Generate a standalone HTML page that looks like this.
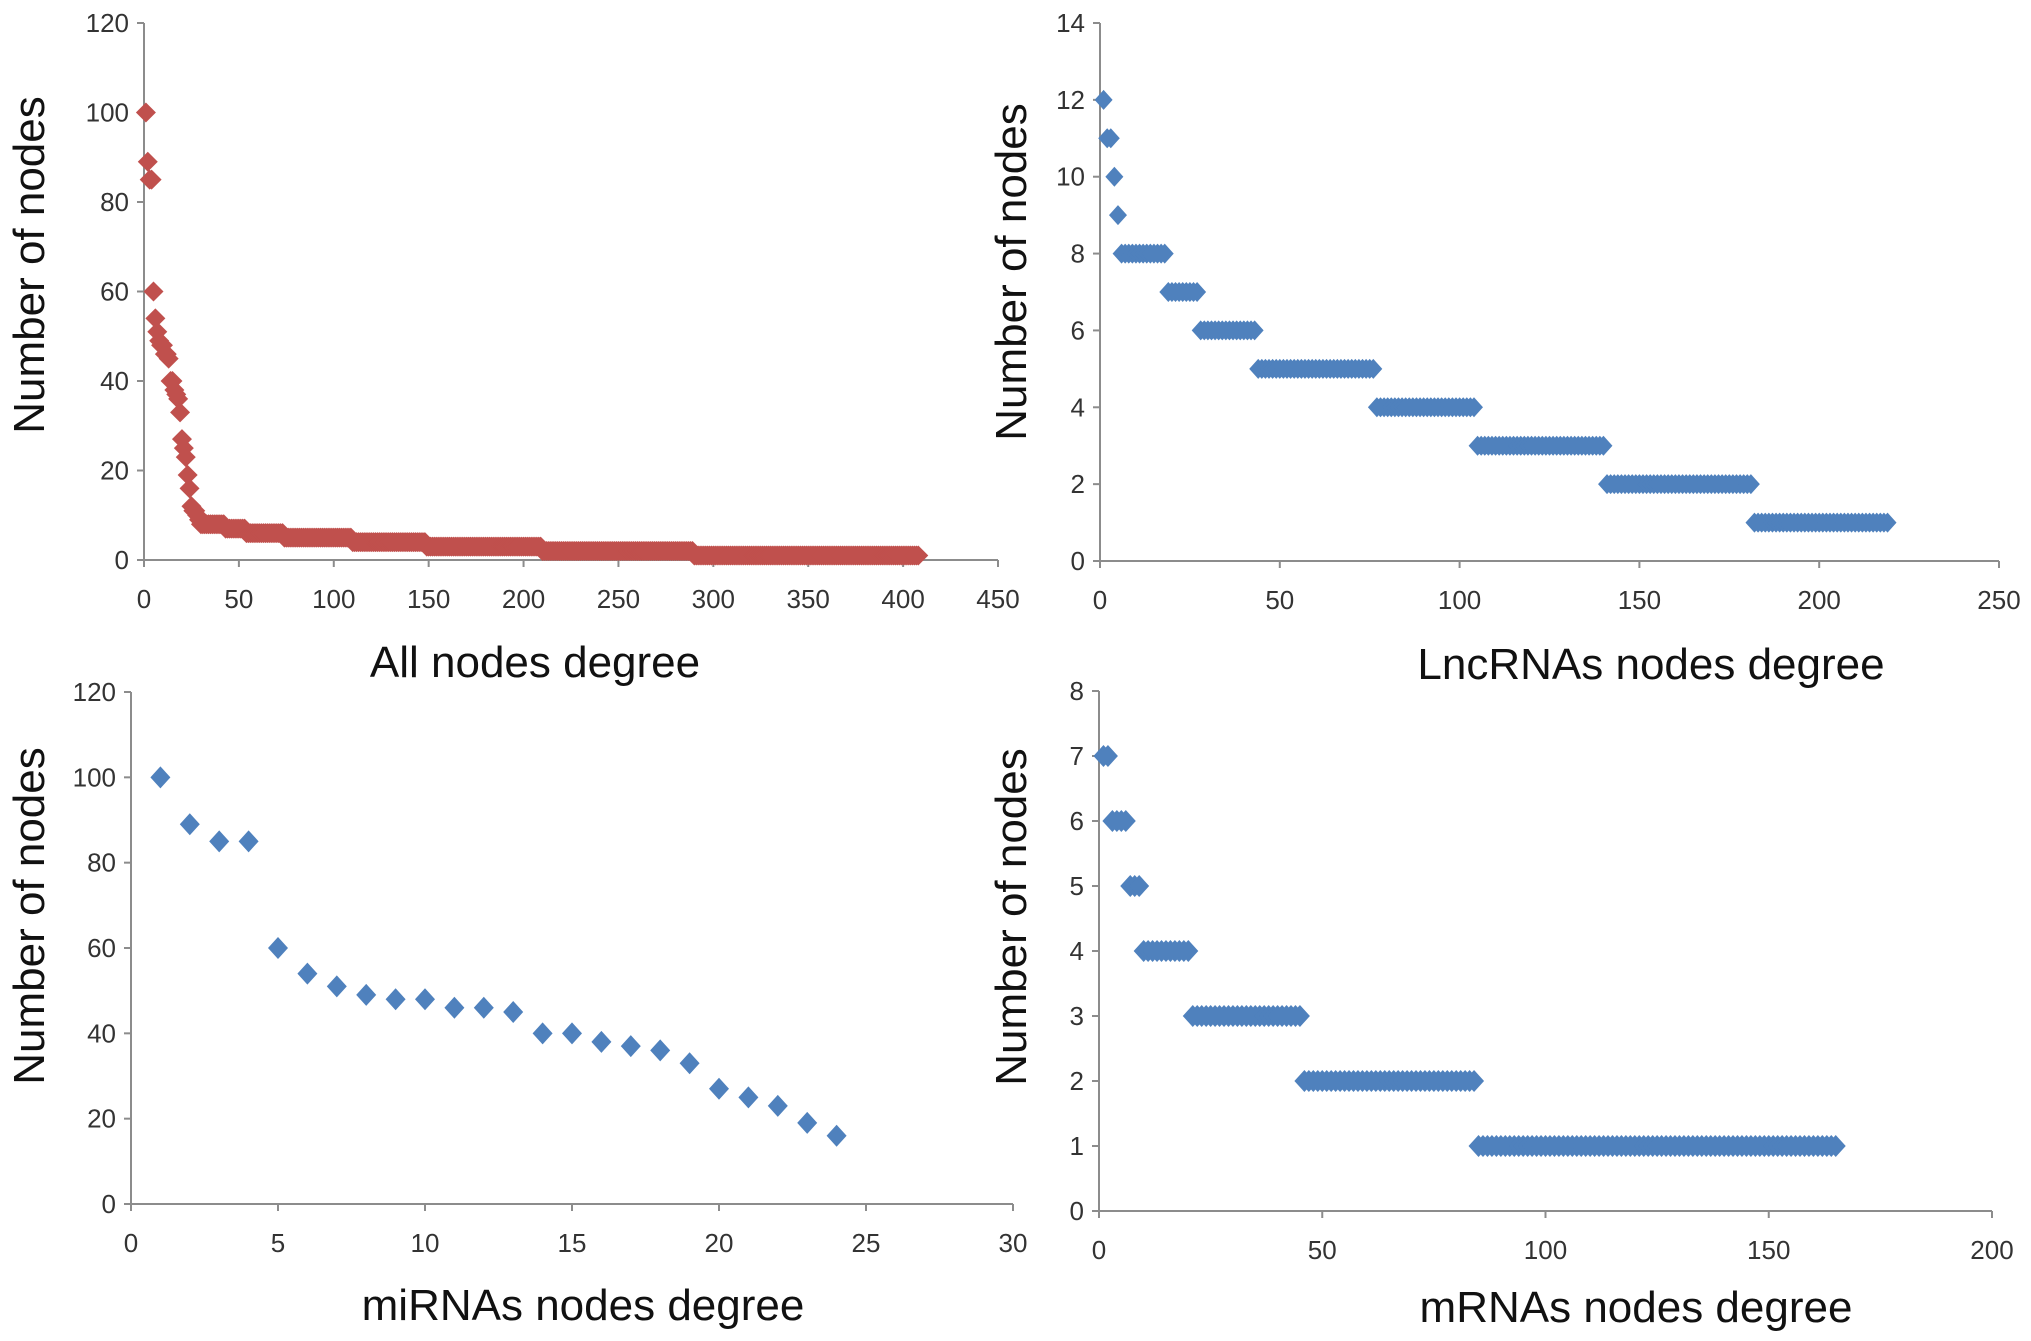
<!DOCTYPE html>
<html><head><meta charset="utf-8">
<style>
html,body{margin:0;padding:0;background:#fff;}
svg{display:block;}
.tick{font-family:"Liberation Sans Narrow","Liberation Sans",sans-serif;font-size:26px;fill:#333;}
.title{font-family:"Liberation Sans",sans-serif;font-size:44px;fill:#111;}
</style></head>
<body>
<svg id="chart" width="2031" height="1341" viewBox="0 0 2031 1341" xmlns="http://www.w3.org/2000/svg"></svg>
<script>
const mirnaValues=[100,89,85,85,60,54,51,49,48,48,46,46,45,40,40,38,37,36,33,27,25,23,19,16];
const lncLevels=[12,11,10,9,8,7,6,5,4,3,2,1];
const lncCounts=[1,2,1,1,13,9,16,33,28,36,41,38];
const mrnaLevels=[7,6,5,4,3,2,1];
const mrnaCounts=[2,4,3,11,25,39,81];
const ticksAll=[0,50,100,150,200,250,300,350,400,450];
const ticksAllY=[0,20,40,60,80,100,120];
const ticksLncX=[0,50,100,150,200,250];
const ticksLncY=[0,2,4,6,8,10,12,14];
const ticksMiX=[0,5,10,15,20,25,30];
const ticksMiY=[0,20,40,60,80,100,120];
const ticksMrX=[0,50,100,150,200];
const ticksMrY=[0,1,2,3,4,5,6,7,8];

function expand(levels,counts){const o=[];levels.forEach((l,i)=>{for(let k=0;k<counts[i];k++)o.push(l);});return o;}
const lncSeries=expand(lncLevels,lncCounts);
const mrnaSeries=expand(mrnaLevels,mrnaCounts);
const allSeries=mirnaValues.concat(lncSeries.concat(mrnaSeries).sort((a,b)=>b-a));

const svg=document.getElementById('chart');
const NS='http://www.w3.org/2000/svg';
function mk(tag,attrs,parent){const e=document.createElementNS(NS,tag);for(const k in attrs)e.setAttribute(k,attrs[k]);(parent||svg).appendChild(e);return e;}

function panel(cfg){
  const g=mk('g',{});
  
  
  const sx=v=>cfg.x0+(v-cfg.xmin)/(cfg.xmax-cfg.xmin)*(cfg.x1-cfg.x0);
  const sy=v=>cfg.y0-(v-cfg.ymin)/(cfg.ymax-cfg.ymin)*(cfg.y0-cfg.y1);
  const ax=mk('line',{x1:cfg.x0,y1:cfg.y0,x2:cfg.x1,y2:cfg.y0,stroke:'#8c8c8c','stroke-width':2},g);
  
  const ay=mk('line',{x1:cfg.x0,y1:cfg.y0,x2:cfg.x0,y2:cfg.y1,stroke:'#8c8c8c','stroke-width':2},g);
  
  cfg.xt.forEach(t=>{
    const x=sx(t);
    mk('line',{x1:x,y1:cfg.y0,x2:x,y2:cfg.y0+7,stroke:'#8c8c8c','stroke-width':2},g);
    const tx=mk('text',{x:x,y:cfg.y0+48,'text-anchor':'middle',class:'tick'},g);
    tx.textContent=t;
    
    
  });
  cfg.yt.forEach(t=>{
    const y=sy(t);
    mk('line',{x1:cfg.x0-7,y1:y,x2:cfg.x0,y2:y,stroke:'#8c8c8c','stroke-width':2},g);
    const tx=mk('text',{x:cfg.x0-15,y:y+9,'text-anchor':'end',class:'tick'},g);
    tx.textContent=t;
    
    
  });
  cfg.data.forEach((v,i)=>{
    const x=sx(i+1),y=sy(v),w=cfg.mw,h=cfg.mh;
    const p=mk('polygon',{points:`${x-w},${y} ${x},${y-h} ${x+w},${y} ${x},${y+h}`,fill:cfg.color},g);
    
    
  });
  const xt=mk('text',{x:cfg.xtx,y:cfg.xty,'text-anchor':'middle',class:'title'},g);
  xt.textContent=cfg.xtitle;
  
  
  const yt=mk('text',{x:0,y:0,'text-anchor':'middle',class:'title',transform:`translate(${cfg.ytx},${cfg.yty}) rotate(-90)`},g);
  yt.textContent='Number of nodes';
  
  
}

panel({name:'all-nodes-chart',x0:144,x1:998,y0:560,y1:23,xmin:0,xmax:450,ymin:0,ymax:120,xt:ticksAll,yt:ticksAllY,data:allSeries,color:'#C0504D',mw:10,mh:10,xtitle:'All nodes degree',xtx:535,xty:677,ytx:44,yty:265});
panel({name:'lncrna-chart',x0:1100,x1:1999,y0:561,y1:23,xmin:0,xmax:250,ymin:0,ymax:14,xt:ticksLncX,yt:ticksLncY,data:lncSeries,color:'#4F81BD',mw:9,mh:10,xtitle:'LncRNAs nodes degree',xtx:1651,xty:679,ytx:1026,yty:272});
panel({name:'mirna-chart',x0:131,x1:1013,y0:1204,y1:692,xmin:0,xmax:30,ymin:0,ymax:120,xt:ticksMiX,yt:ticksMiY,data:mirnaValues,color:'#4F81BD',mw:10,mh:11,xtitle:'miRNAs nodes degree',xtx:583,xty:1320,ytx:44,yty:916});
panel({name:'mrna-chart',x0:1099,x1:1992,y0:1211,y1:691,xmin:0,xmax:200,ymin:0,ymax:8,xt:ticksMrX,yt:ticksMrY,data:mrnaSeries,color:'#4F81BD',mw:10,mh:11,xtitle:'mRNAs  nodes degree',xtx:1636,xty:1322,ytx:1026,yty:917});
</script>
</body></html>
